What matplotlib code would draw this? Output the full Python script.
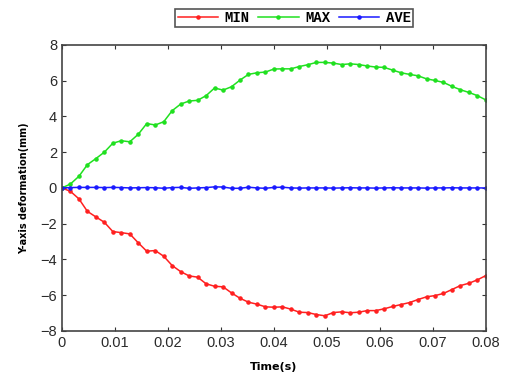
import matplotlib
matplotlib.use("Agg")
import matplotlib.pyplot as plt
import numpy as np

# time axis: 51 samples from 0 to 0.08 s
time_s = np.linspace(0, 0.08, 51)

max_def = [0.0, 0.22, 0.65, 1.30, 1.64, 2.00, 2.50, 2.64, 2.58, 3.00,
           3.60, 3.52, 3.70, 4.32, 4.69, 4.86, 4.90, 5.16, 5.59, 5.47,
           5.66, 6.03, 6.35, 6.44, 6.48, 6.65, 6.66, 6.66, 6.79, 6.89,
           7.02, 7.02, 6.98, 6.90, 6.94, 6.90, 6.82, 6.76, 6.74, 6.59,
           6.44, 6.35, 6.27, 6.10, 6.01, 5.90, 5.68, 5.49, 5.34, 5.16,
           4.92]

min_def = [0.0, -0.19, -0.61, -1.31, -1.62, -1.92, -2.44, -2.50, -2.57, -3.07,
           -3.54, -3.50, -3.82, -4.34, -4.68, -4.92, -4.99, -5.36, -5.50, -5.53,
           -5.87, -6.17, -6.39, -6.50, -6.65, -6.67, -6.65, -6.78, -6.95, -6.97,
           -7.08, -7.15, -6.97, -6.93, -6.98, -6.95, -6.86, -6.86, -6.76, -6.63,
           -6.52, -6.41, -6.24, -6.09, -6.02, -5.90, -5.68, -5.46, -5.33, -5.14,
           -4.90]

ave_def = [0.0, 0.02, 0.03, 0.03, 0.03, 0.02, 0.03, 0.02, 0.00, 0.01,
           0.02, 0.01, -0.02, 0.02, 0.03, -0.02, 0.00, 0.02, 0.06, 0.05,
           -0.02, -0.02, 0.04, 0.00, -0.02, 0.03, 0.04, 0.00, -0.01, 0.00,
           0.00, 0.00, -0.01, 0.00, 0.01, 0.00, 0.00, -0.01, 0.00, 0.01,
           0.00, 0.00, 0.00, -0.01, 0.00, 0.00, 0.01, 0.00, 0.00, 0.00,
           0.00]

x_ticks = [0, 0.01, 0.02, 0.03, 0.04, 0.05, 0.06, 0.07, 0.08]
x_tick_labels = ["0", "0.01", "0.02", "0.03", "0.04", "0.05", "0.06", "0.07", "0.08"]
y_ticks = [-8, -6, -4, -2, 0, 2, 4, 6, 8]

fig = plt.figure(figsize=(5.12, 3.74), dpi=100)
ax = fig.add_axes([0.121, 0.115, 0.828, 0.765])

line_kw = dict(marker=".", markersize=4.5, linewidth=1.1)
ax.plot(time_s, min_def, color="#ff2020", label="MIN", **line_kw)
ax.plot(time_s, max_def, color="#20e020", label="MAX", **line_kw)
ax.plot(time_s, ave_def, color="#1a1aff", label="AVE", **line_kw)

ax.set_xlim(0, 0.08)
ax.set_ylim(-8, 8)
ax.set_xticks(x_ticks)
ax.set_xticklabels(x_tick_labels)
ax.set_yticks(y_ticks)

ax.tick_params(direction="in", top=True, right=True, length=3,
               labelsize=10.5, colors="#333333", labelcolor="#2a2a2a")
for lab in ax.get_xticklabels() + ax.get_yticklabels():
    lab.set_family("Liberation Sans")
for spine in ax.spines.values():
    spine.set_color("#444444")
    spine.set_linewidth(1.2)

ax.set_xlabel("Time(s)", fontsize=8, fontweight="bold", labelpad=9)
ax.set_ylabel("Y-axis deformation(mm)", fontsize=7, fontweight="bold", labelpad=8)

leg = fig.legend(loc="center", bbox_to_anchor=(0.575, 0.952), ncol=3,
                 prop={"family": "Liberation Mono", "weight": "bold", "size": 10},
                 handlelength=2.9, handletextpad=0.5, columnspacing=0.6,
                 fancybox=False, framealpha=1, borderpad=0.15)
leg.get_frame().set_edgecolor("#555555")
leg.get_frame().set_linewidth(1.2)

fig.savefig("out.png", dpi=100)
